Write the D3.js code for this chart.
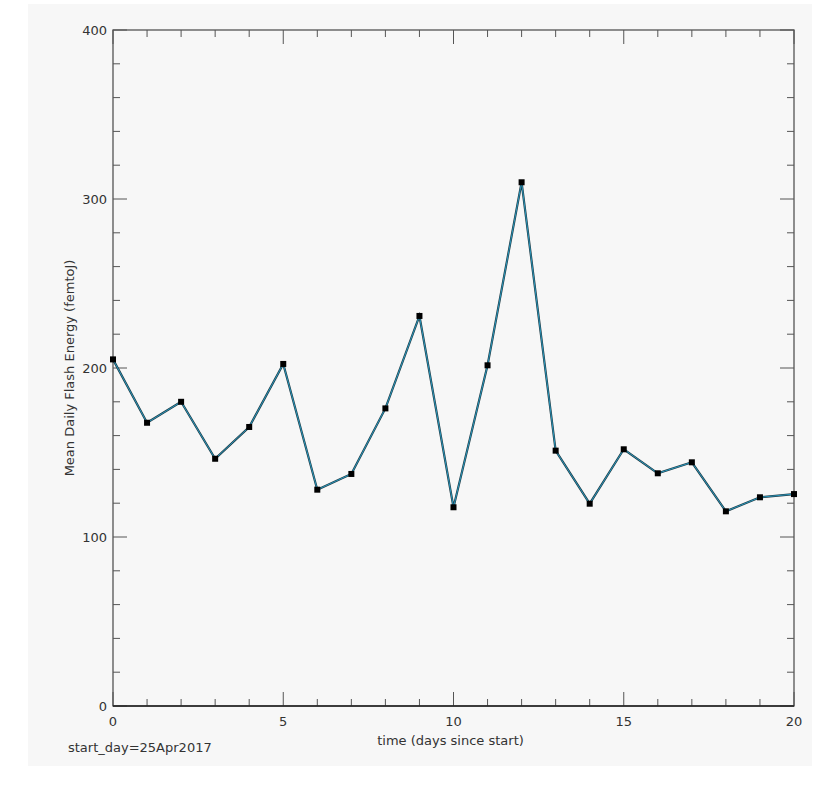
<!DOCTYPE html>
<html><head><meta charset="utf-8">
<script src="https://cdn.jsdelivr.net/npm/d3@7"></script>
<style>body{margin:0;background:#fff}svg{display:block}text{font-family:"DejaVu Sans",sans-serif;fill:#333}</style>
</head><body><svg id="c" width="818" height="793"></svg>
<script>
const days = [0,1,2,3,4,5,6,7,8,9,10,11,12,13,14,15,16,17,18,19,20];
const energy = [205.1,167.6,180.0,146.3,165.1,202.4,128.0,137.3,176.1,230.8,117.6,201.6,309.9,151.1,119.7,151.9,137.7,144.2,115.2,123.5,125.4];
const xTicks = [0,5,10,15,20];
const yTicks = [0,100,200,300,400];
const xTitle = "time (days since start)";
const yTitle = "Mean Daily Flash Energy (femtoJ)";
const note = "start_day=25Apr2017";

const svg = d3.select("#c");
svg.append("rect").attr("x",28).attr("y",4).attr("width",784).attr("height",762).attr("fill","#f7f7f7");
const L=113,R=794,T=30,B=706;
const x = d3.scaleLinear().domain([0,20]).range([L,R]);
const y = d3.scaleLinear().domain([0,400]).range([B,T]);
const axCol="#555";
const g = svg.append("g");
// frame
g.append("rect").attr("x",L).attr("y",T).attr("width",R-L).attr("height",B-T).attr("fill","none").attr("stroke",axCol).attr("stroke-width",1.3);
// x ticks bottom/top
d3.range(0,21,1).forEach(v=>{
  const major = v%5===0; const len = major?14:7;
  g.append("line").attr("x1",x(v)).attr("x2",x(v)).attr("y1",B).attr("y2",B-len).attr("stroke",axCol);
  g.append("line").attr("x1",x(v)).attr("x2",x(v)).attr("y1",T).attr("y2",T+len).attr("stroke",axCol);
});
d3.range(0,401,20).forEach(v=>{
  const major = v%100===0; const len = major?14:7;
  g.append("line").attr("y1",y(v)).attr("y2",y(v)).attr("x1",L).attr("x2",L+len).attr("stroke",axCol);
  g.append("line").attr("y1",y(v)).attr("y2",y(v)).attr("x1",R).attr("x2",R-len).attr("stroke",axCol);
});
g.append("line").attr("x1",L).attr("x2",R).attr("y1",B).attr("y2",B).attr("stroke","#222").attr("stroke-width",1.3);
xTicks.forEach(v=>g.append("text").attr("x",x(v)).attr("y",B+20).attr("text-anchor","middle").attr("font-size",13).text(v));
yTicks.forEach(v=>g.append("text").attr("x",L-6).attr("y",y(v)+5).attr("text-anchor","end").attr("font-size",13).text(v));
g.append("text").attr("x",(L+R)/2-3).attr("y",745).attr("text-anchor","middle").attr("font-size",13).text(xTitle);
g.append("text").attr("transform",`translate(74,${(T+B)/2}) rotate(-90)`).attr("text-anchor","middle").attr("font-size",13).text(yTitle);
g.append("text").attr("x",68).attr("y",752).attr("font-size",13).text(note);
// line
const data = days.map((d,i)=>[d,energy[i]]);
const line = d3.line().x(d=>x(d[0])).y(d=>y(d[1]));
svg.append("path").datum(data).attr("d",line).attr("fill","none").attr("stroke","#1f3a44").attr("stroke-width",2.2);
svg.append("path").datum(data).attr("d",line).attr("fill","none").attr("stroke","#2aa0c8").attr("stroke-width",0.9);
svg.selectAll("rect.pt").data(data).enter().append("rect").attr("class","pt")
  .attr("x",d=>x(d[0])-3).attr("y",d=>y(d[1])-3).attr("width",6).attr("height",6).attr("fill","#000");
</script></body></html>
